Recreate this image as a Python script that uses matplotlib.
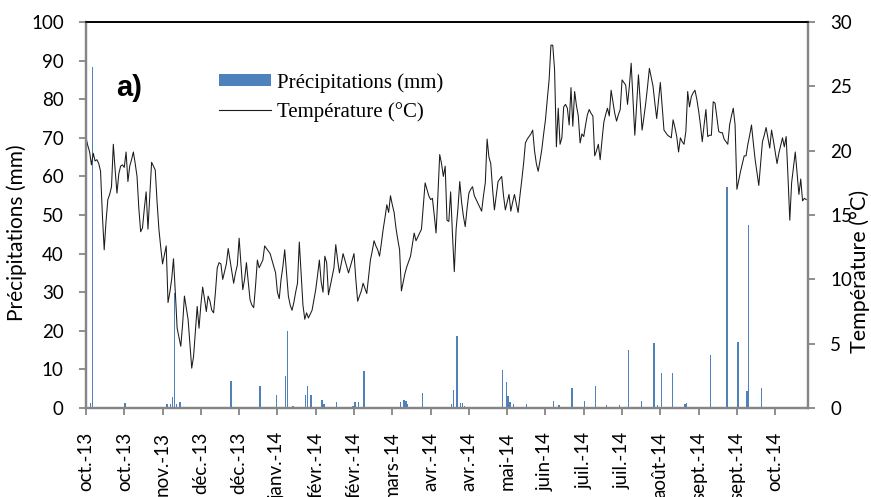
import datetime
import numpy as np
import matplotlib
matplotlib.use("Agg")
import matplotlib.pyplot as plt
from matplotlib.patches import Patch
from matplotlib.lines import Line2D

# daily mean temperature (°C), 1 oct. 2013 -> 31 oct. 2014
temp = [
    21.0, 20.4, 19.9, 18.9, 19.8, 19.2, 19.3, 19.0, 18.4, 15.0,
    12.3, 14.5, 16.2, 16.6, 17.2, 20.5, 18.5, 16.7, 18.2, 18.8,
    18.9, 18.7, 19.9, 17.6, 18.8, 19.3, 19.9, 19.0, 18.0, 15.5,
    13.7, 14.0, 15.5, 16.8, 13.9, 16.5, 19.1, 18.8, 18.5, 16.0,
    13.9, 12.5, 11.2, 11.9, 12.6, 8.2, 9.0, 10.0, 11.6, 9.0,
    6.2, 5.5, 4.8, 6.5, 8.7, 7.8, 6.9, 5.0, 3.1, 4.0,
    6.0, 7.9, 6.2, 8.0, 9.4, 8.5, 7.5, 8.7, 8.3, 7.6,
    7.4, 9.0, 10.9, 11.3, 11.2, 10.0, 10.6, 11.2, 12.4, 11.5,
    10.6, 9.7, 10.5, 11.1, 13.2, 11.2, 9.2, 10.0, 11.3, 9.8,
    8.4, 8.0, 7.8, 9.5, 11.5, 10.9, 11.2, 11.5, 12.6, 12.4,
    12.2, 12.0, 11.5, 11.0, 10.5, 9.0, 8.5, 10.0, 11.0, 12.3,
    10.5, 8.7, 8.0, 7.6, 8.2, 9.0, 9.7, 12.9, 10.5, 8.0,
    6.9, 7.4, 7.0, 7.3, 7.6, 8.4, 9.2, 10.3, 11.5, 9.8,
    9.0, 11.8, 11.3, 8.8, 9.5, 10.2, 10.9, 12.7, 11.5, 10.5,
    11.2, 12.0, 11.5, 11.0, 10.5, 11.0, 11.5, 12.0, 10.0, 8.3,
    8.7, 9.1, 9.7, 9.3, 8.9, 10.2, 11.5, 12.2, 13.0, 12.6,
    12.3, 11.8, 12.8, 13.9, 14.8, 15.8, 15.2, 16.5, 15.8, 15.2,
    14.0, 13.1, 12.3, 9.1, 9.8, 10.5, 11.0, 11.4, 11.8, 12.7,
    13.6, 13.0, 13.3, 13.6, 13.9, 15.7, 17.5, 17.0, 16.5, 16.2,
    16.3, 15.0, 13.6, 16.5, 19.7, 19.0, 18.0, 18.8, 14.6, 14.5,
    16.8, 13.5, 10.6, 13.9, 15.5, 17.6, 16.0, 14.9, 14.1, 15.5,
    16.7, 17.0, 17.2, 16.5, 16.2, 15.9, 15.6, 15.3, 16.5, 17.5,
    20.9, 19.5, 19.0, 17.0, 15.4, 16.5, 17.6, 17.8, 18.0, 16.5,
    15.4, 16.0, 16.6, 15.3, 16.0, 16.6, 15.9, 15.2, 16.5, 17.7,
    19.0, 20.6, 20.9, 21.1, 21.3, 21.6, 20.0, 19.0, 18.4, 19.2,
    20.1, 21.3, 22.4, 24.0, 25.5, 28.2, 28.2, 26.3, 20.3, 23.3,
    20.5, 21.0, 23.4, 23.6, 23.3, 22.0, 24.9, 21.9, 24.6, 23.5,
    22.7, 20.6, 21.3, 21.1, 22.0, 22.8, 23.2, 22.9, 22.7, 19.6,
    20.0, 20.5, 19.3, 20.8, 22.2, 22.8, 23.3, 22.7, 24.7, 23.8,
    22.9, 22.3, 22.8, 23.2, 25.5, 25.3, 25.1, 23.6, 25.0, 26.8,
    24.0, 21.2, 23.5, 25.9, 23.8, 21.6, 22.6, 23.7, 25.0, 26.4,
    25.7, 25.0, 23.7, 22.5, 23.9, 25.3, 23.5, 21.6, 21.4, 21.2,
    21.1, 21.0, 22.4, 21.8, 21.1, 19.9, 21.0, 20.7, 20.5, 21.5,
    24.6, 23.4, 24.2, 24.5, 24.7, 24.0, 23.1, 22.0, 20.7, 22.0,
    23.2, 21.1, 21.2, 21.2, 23.8, 23.7, 22.6, 21.5, 21.4, 21.4,
    20.9, 20.7, 20.5, 22.0, 22.7, 23.3, 22.0, 17.0, 17.7, 18.4,
    19.0, 19.6, 19.6, 20.5, 21.2, 22.0, 20.6, 19.3, 18.3, 17.3,
    19.0, 20.7, 21.2, 21.8, 21.0, 20.2, 21.6, 20.8, 19.9, 19.0,
    19.8, 20.4, 21.0, 20.3, 21.1, 18.0, 14.6, 17.5, 18.7, 19.9,
    18.2, 16.6, 17.8, 16.1, 16.3, 16.2,
]

# rainy days (day number from 1 oct. 2013) and rain (mm)
rain_day = [2, 3, 21, 25, 35, 44, 46, 47, 48, 49, 51,
            79, 81, 86, 90, 95, 98, 104, 109, 110, 113, 115, 120, 121, 123, 129, 130,
            137, 146, 147, 149, 152, 172, 174, 175, 176, 184,
            200, 201, 203, 205, 206, 207, 228, 230, 231, 232, 234, 241, 256, 259,
            266, 273, 279, 285, 292, 297, 300, 304, 311, 313, 315, 321, 325, 328, 329,
            342, 351, 357, 362, 363, 370, 375]
rain_mm = [1.3, 88.4, 1.2, 0.3, 0.3, 1.0, 1.0, 2.9, 29.9, 1.0, 1.6,
           7.0, 0.3, 0.3, 0.3, 5.8, 0.3, 3.5, 8.3, 20.0, 0.5, 0.3, 3.4, 5.8, 3.5, 2.1, 1.0,
           1.5, 0.6, 1.5, 1.5, 9.6, 1.5, 2.0, 1.8, 1.0, 3.8,
           1.0, 4.6, 18.6, 1.3, 1.3, 0.4, 9.8, 6.8, 3.1, 1.5, 1.0, 1.0, 1.7, 0.8,
           5.2, 1.8, 5.7, 0.8, 0.7, 15.0, 0.2, 1.8, 16.8, 0.8, 9.1, 9.1, 0.2, 1.0, 1.3,
           13.7, 57.3, 17.2, 4.5, 47.4, 5.3, 0.3]

start = datetime.date(2013, 10, 1)
tick_step = 21
mois = ["janv.", "févr.", "mars", "avr.", "mai", "juin",
        "juil.", "août", "sept.", "oct.", "nov.", "déc."]

ndays = len(temp)
tick_pos = np.arange(0, ndays, tick_step)
tick_lab = []
for t in tick_pos:
    d = start + datetime.timedelta(days=int(t))
    tick_lab.append(f"{mois[d.month - 1]}-{d.year % 100:02d}")

grey = "#868686"
blue = "#4F81BD"
sans = "Lato"

fig, ax1 = plt.subplots(figsize=(8.71, 4.97), dpi=100)
fig.subplots_adjust(left=0.0987, right=0.9277, top=0.9557, bottom=0.179)

ax1.bar(np.array(rain_day) + 0.5, rain_mm, width=0.75, color=blue, linewidth=0, zorder=2)
ax1.set_ylim(0, 100)
ax1.set_yticks(np.arange(0, 101, 10))
ax1.set_xlim(0, ndays)
ax1.set_xticks(tick_pos)
ax1.set_xticklabels(tick_lab, rotation=90, fontsize=13.5, family=sans, va="top")
ax1.set_ylabel("Précipitations (mm)", fontsize=15, family=sans)
ax1.yaxis.set_label_coords(-0.082, 0.455)

ax2 = ax1.twinx()
ax2.plot(np.arange(ndays), temp, color="#1a1a1a", lw=0.75)
ax2.set_ylim(0, 30)
ax2.set_yticks(np.arange(0, 31, 5))
ax2.set_ylabel("Température (°C)", fontsize=15.5, family=sans)
ax2.yaxis.set_label_coords(1.058, 0.355)

for ax in (ax1, ax2):
    for s in ("left", "right", "bottom"):
        ax.spines[s].set_color(grey)
        ax.spines[s].set_linewidth(1.6)
    ax.spines["top"].set_color("black")
    ax.spines["top"].set_linewidth(1.2)
    ax.tick_params(axis="both", direction="out", length=5, width=1.3, color=grey,
                   labelsize=13.5, pad=11)
    for lab in ax.get_yticklabels():
        lab.set_family(sans)

ax1.tick_params(axis="x", pad=12)

fig.text(116 / 871, 1 - 88 / 497, "a)", fontsize=21, fontweight="bold",
         family="Liberation Sans", va="center", ha="left")

handles = [Patch(facecolor=blue, edgecolor="none"),
           Line2D([], [], color="#1a1a1a", lw=0.8)]
fig.legend(handles, ["Précipitations (mm)", "Température (°C)"],
           loc="upper left", bbox_to_anchor=(219 / 871, 1 - 73 / 497),
           frameon=False, prop={"family": "Liberation Serif", "size": 15},
           handlelength=2.5, handleheight=0.5, handletextpad=0.3,
           labelspacing=0.45, borderpad=0, borderaxespad=0)

fig.savefig("out.png", dpi=100)
